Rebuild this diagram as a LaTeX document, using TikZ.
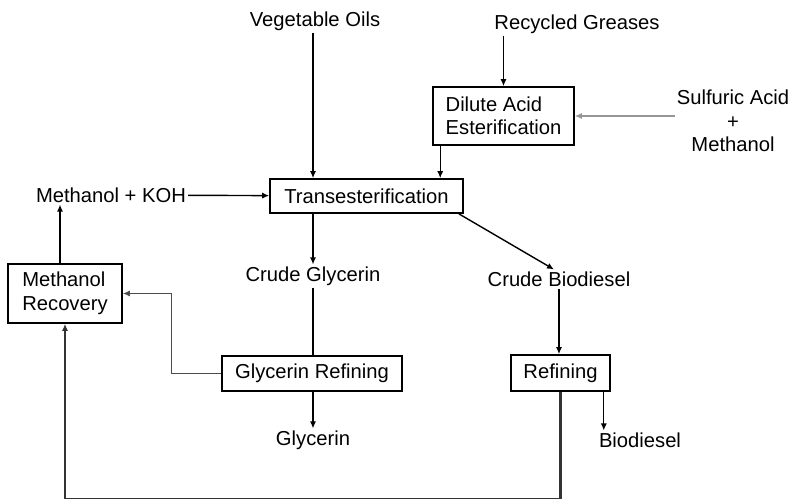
\documentclass[tikz,border=0pt]{standalone}
\usepackage{fontspec}
\setmainfont{Liberation Sans}
\usepackage{tikz}
\usetikzlibrary{calc, positioning, arrows.meta}
\definecolor{lineGrey}{RGB}{150,150,150}

\begin{document}
\begin{tikzpicture}[
  x=0.02cm, y=-0.02cm,
  font=\fontsize{11.5}{13.4}\selectfont,
  proc/.style={draw, line width=0.9pt, inner sep=0pt, align=left},
  feed/.style={inner sep=1pt, align=center},
  flow/.style={draw, line width=0.8pt, -{Latex[length=4pt,width=3.5pt]}},
  back/.style={flow, line width=1.3pt}
]
\useasboundingbox (0,0) rectangle (794,499);

% feeds and products
\node[feed] (oils) at (315,21) {Vegetable Oils};
\node[feed] (grease) at (577,24) {Recycled Greases};
\node[feed] (sulf) at (733,121) {Sulfuric Acid\\+\\Methanol};
\node[feed] (mkoh) at (111,195) {Methanol + KOH};
\node[feed] (cglyc) at (313,276) {Crude Glycerin};
\node[feed] (cbio) at (559,279) {Crude Biodiesel};
\node[feed] (glyc) at (313,440) {Glycerin};
\node[feed] (bio) at (640,440) {Biodiesel};

% process boxes
\node[proc, minimum width=2.82cm, minimum height=1.16cm] (acid) at (503.5,116) {Dilute Acid\\Esterification};
\node[proc, minimum width=3.86cm, minimum height=0.68cm] (trans) at (366.5,196) {Transesterification};
\node[proc, minimum width=2.28cm, minimum height=1.18cm] (recov) at (65,293.5) {Methanol\\Recovery};
\node[proc, minimum width=3.6cm, minimum height=0.7cm] (grefine) at (312,373.5) {Glycerin Refining};
\node[proc, minimum width=1.98cm, minimum height=0.72cm] (refine) at (560.5,373) {Refining};

% connectors
\draw[flow] (oils.south -| cglyc) -- (trans.north -| cglyc);
\draw[flow, line width=1.1pt] (grease.south -| acid.north) -- (acid.north);
\draw[flow, draw=lineGrey] (sulf.west |- acid.east) -- (acid.east);
\draw[flow] ([xshift=0.16cm]acid.south west) -- ([xshift=0.16cm]acid.south west |- trans.north);
\draw[flow] (mkoh) -- (trans);
\draw[flow] (trans.south -| cglyc) -- (cglyc.north);
\draw[flow] ([xshift=-0.1cm]trans.south east) -- ([xshift=-0.1cm]cbio.north);
\draw[line width=0.8pt] (cglyc.south) -- (grefine.north -| cglyc.south);
\draw[flow] (grefine.south -| glyc.north) -- (glyc.north);
\draw[back] (cbio.south) -- (refine.north -| cbio.south);
\draw[flow] ([xshift=-0.14cm]refine.south east) -- ([xshift=-0.14cm]refine.south east |- bio.north);
\draw[flow] ([xshift=-0.1cm]recov.north) -- ([xshift=-0.1cm]recov.north |- mkoh.south);
\draw[flow, draw=black!70] (grefine.west) -- ++(-50,0) |- (recov.east);
\draw[back, draw=black!80] (refine.south) -- ++(0,107) -| (recov.south);
\end{tikzpicture}
\end{document}
